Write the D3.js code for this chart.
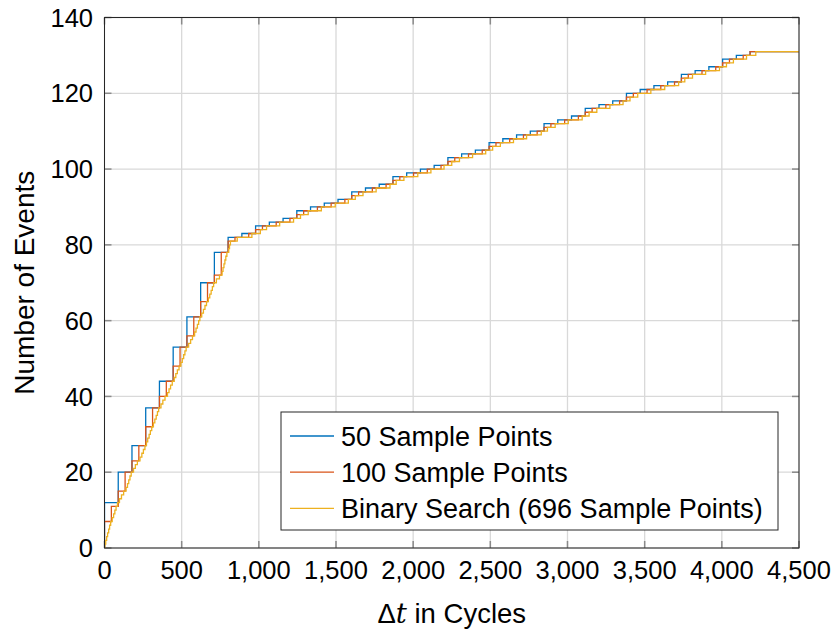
<!DOCTYPE html>
<html>
<head>
<meta charset="utf-8">
<script src="https://cdn.jsdelivr.net/npm/d3@7"></script>
<style>
  body { margin: 0; background: #fff; }
  text { font-family: "Liberation Sans", Arial, sans-serif; fill: #000; }
</style>
</head>
<body>
<svg id="chart" width="835" height="630"></svg>
<script>
// Axis ticks
const xTicks = [0, 500, 1000, 1500, 2000, 2500, 3000, 3500, 4000, 4500];
const yTicks = [0, 20, 40, 60, 80, 100, 120, 140];

// Series labels and colours
const seriesNames = ["50 Sample Points", "100 Sample Points", "Binary Search (696 Sample Points)"];
const seriesColors = ["#0072BD", "#D95319", "#EDB120"];

// 50 sample points: spacing in cycles, and event count held over each interval
const spacing50 = 89;
const counts50 = [
  12, 20, 27, 37, 44, 53, 61, 70, 78, 82,
  83, 85, 86, 87, 89, 90, 91, 92, 94, 95,
  96, 98, 99, 100, 101, 103, 104, 105, 107, 108,
  109, 110, 112, 113, 114, 116, 117, 118, 120, 121,
  122, 123, 125, 126, 127, 129, 130, 131, 131, 131
];

// 100 sample points
const spacing100 = 44.5;
const counts100 = [
  7, 11, 15, 20, 23, 27, 32, 37, 40, 44,
  48, 53, 56, 61, 65, 70, 72, 78, 81, 82,
  82, 83, 84, 85, 85, 86, 86, 87, 88, 89,
  89, 90, 90, 91, 91, 92, 93, 94, 94, 95,
  95, 96, 97, 98, 98, 99, 99, 100, 100, 101,
  102, 103, 103, 104, 104, 105, 106, 107, 107, 108,
  108, 109, 109, 110, 111, 112, 112, 113, 113, 114,
  115, 116, 116, 117, 117, 118, 119, 120, 120, 121,
  121, 122, 122, 123, 124, 125, 125, 126, 126, 127,
  128, 129, 129, 130, 131, 131, 131, 131, 131, 131
];

// Binary search: cycle at which each event is located
const binaryEventCycles = [
  2, 8, 14, 20, 27, 33, 40, 50, 59, 67, 75, 84, 97, 110, 124,
  140, 149, 157, 165, 173, 188, 200, 213, 230, 242, 252, 262,
  272, 280, 289, 297, 306, 317, 326, 335, 343, 351, 366, 378, 392,
  408, 418, 428, 439, 452, 462, 472, 483, 495, 504, 513, 521, 529,
  545, 558, 570, 584, 593, 602, 610, 618, 630, 641, 651, 661,
  673, 682, 691, 699, 707, 725, 745, 762, 768, 774, 780, 786, 793,
  805, 810, 816, 860,
  955, 1010, 1050, 1135, 1225, 1270, 1320, 1405, 1495, 1580, 1625, 1675,
  1760, 1850, 1890, 1940, 2030, 2115, 2200, 2250, 2300, 2385, 2470, 2515,
  2565, 2650, 2735, 2830, 2870, 2920, 3005, 3095, 3140, 3190, 3275, 3360,
  3405, 3455, 3540, 3630, 3720, 3760, 3810, 3895, 3985, 4030, 4075, 4160, 4220
];

const xMax = 4500, yMax = 140;

const svg = d3.select("#chart");
const plot = { left: 104.5, right: 799, top: 17.5, bottom: 548 };

const x = d3.scaleLinear().domain([0, xMax]).range([plot.left, plot.right]);
const y = d3.scaleLinear().domain([0, yMax]).range([plot.bottom, plot.top]);

svg.append("defs").append("clipPath").attr("id", "plot-clip")
  .append("rect")
  .attr("x", plot.left).attr("y", plot.top)
  .attr("width", plot.right - plot.left).attr("height", plot.bottom - plot.top);

// Grid
const grid = svg.append("g").attr("stroke", "#d9d9d9").attr("stroke-width", 1.3);
grid.selectAll("line.v").data(xTicks).join("line")
  .attr("x1", d => x(d)).attr("x2", d => x(d))
  .attr("y1", plot.top).attr("y2", plot.bottom);
grid.selectAll("line.h").data(yTicks).join("line")
  .attr("x1", plot.left).attr("x2", plot.right)
  .attr("y1", d => y(d)).attr("y2", d => y(d));

// Inward tick marks on all four sides
const tickLen = 7;
const ticks = svg.append("g").attr("stroke", "#8a8a8a").attr("stroke-width", 1.5);
xTicks.forEach(d => {
  ticks.append("line").attr("x1", x(d)).attr("x2", x(d)).attr("y1", plot.bottom).attr("y2", plot.bottom - tickLen);
  ticks.append("line").attr("x1", x(d)).attr("x2", x(d)).attr("y1", plot.top).attr("y2", plot.top + tickLen);
});
yTicks.forEach(d => {
  ticks.append("line").attr("x1", plot.left).attr("x2", plot.left + tickLen).attr("y1", y(d)).attr("y2", y(d));
  ticks.append("line").attr("x1", plot.right).attr("x2", plot.right - tickLen).attr("y1", y(d)).attr("y2", y(d));
});

// Step series
const line = d3.line().x(d => x(d[0])).y(d => y(d[1])).curve(d3.curveStepAfter);

const pts50 = [[0, 0]].concat(counts50.map((c, i) => [i * spacing50, c]), [[xMax, counts50[counts50.length - 1]]]);
const pts100 = [[0, 0]].concat(counts100.map((c, i) => [i * spacing100, c]), [[xMax, counts100[counts100.length - 1]]]);
const ptsBinary = [[0, 0]].concat(binaryEventCycles.map((e, i) => [e, i + 1]), [[xMax, binaryEventCycles.length]]);

const lines = svg.append("g").attr("clip-path", "url(#plot-clip)").attr("fill", "none");
[pts50, pts100, ptsBinary].forEach((pts, i) => {
  lines.append("path").attr("d", line(pts))
    .attr("stroke", seriesColors[i]).attr("stroke-width", 1.3);
});

// Frame
svg.append("rect")
  .attr("x", plot.left).attr("y", plot.top)
  .attr("width", plot.right - plot.left).attr("height", plot.bottom - plot.top)
  .attr("fill", "none").attr("stroke", "#262626").attr("stroke-width", 1);

// Tick labels
const fmt = d3.format(",");
svg.append("g").selectAll("text").data(xTicks).join("text")
  .attr("x", d => x(d)).attr("y", 579)
  .attr("text-anchor", "middle").attr("font-size", 25.5)
  .text(d => fmt(d));
svg.append("g").selectAll("text").data(yTicks).join("text")
  .attr("x", 93).attr("y", d => y(d)).attr("dy", "0.36em")
  .attr("text-anchor", "end").attr("font-size", 25.5)
  .text(d => d);

// Axis labels
const xLabel = svg.append("text")
  .attr("x", (plot.left + plot.right) / 2).attr("y", 623)
  .attr("text-anchor", "middle").attr("font-size", 27.5);
xLabel.append("tspan").text("Δ");
xLabel.append("tspan").attr("font-style", "italic").attr("font-family", "'DejaVu Serif', serif").text("t");
xLabel.append("tspan").text(" in Cycles");

svg.append("text")
  .attr("transform", `translate(34,${(plot.top + plot.bottom) / 2}) rotate(-90)`)
  .attr("text-anchor", "middle").attr("font-size", 28)
  .text("Number of Events");

// Legend
const legend = svg.append("g");
legend.append("rect")
  .attr("x", 281).attr("y", 412).attr("width", 497).attr("height", 118)
  .attr("fill", "#fff").attr("stroke", "#262626").attr("stroke-width", 1);
seriesNames.forEach((name, i) => {
  const cy = 436 + i * 36.2;
  legend.append("line").attr("x1", 290).attr("x2", 334).attr("y1", cy).attr("y2", cy)
    .attr("stroke", seriesColors[i]).attr("stroke-width", 1.3);
  legend.append("text").attr("x", 341).attr("y", cy).attr("dy", "0.36em")
    .attr("font-size", 27).text(name);
});
</script>
</body>
</html>
